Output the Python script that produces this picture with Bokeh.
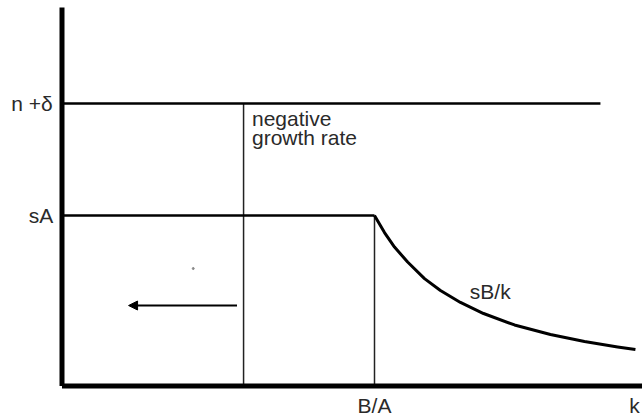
from bokeh.plotting import figure
from bokeh.models import Range1d, Arrow, NormalHead
from bokeh.core.properties import value
from bokeh.embed import file_html
from bokeh.resources import INLINE

# ---- schematic values (units: B/A = 10 on k axis, sA = 1 on y axis) ----
k_ba = 10.0          # B/A
k_neg = 5.81         # k where growth turns negative
k_end = 18.35        # end of sB/k curve
k_line_end = 17.23   # end of n+delta line
y_top = 2.22         # top of vertical axis
sA = 1.0
n_delta = 1.657

curve_k = [10.0, 10.32, 10.64, 11.06, 11.6, 12.11, 12.75, 13.49, 14.48, 15.63, 16.72, 17.78, 18.35]
curve_y = [1.0, 0.90, 0.815, 0.727, 0.63, 0.56, 0.49, 0.425, 0.358, 0.302, 0.261, 0.229, 0.214]

arrow_from = 5.6
arrow_to = 2.13
arrow_y = 0.472
dot_k, dot_y = 4.2, 0.689

labels = ["n +δ", "sA", "negative", "growth rate", "sB/k", "B/A", "k"]

FONT = value("Liberation Sans")

p = figure(width=642, height=417, output_backend="svg", toolbar_location=None,
           x_range=Range1d(-1.968, 18.576), y_range=Range1d(-0.1848, 2.261),
           min_border=0, min_border_left=0, min_border_right=0,
           min_border_top=0, min_border_bottom=0)
p.axis.visible = False
p.grid.visible = False
p.outline_line_color = None
p.background_fill_color = "white"
p.border_fill_color = "white"

# thin vertical guide lines
p.line([k_neg, k_neg], [0, n_delta], line_color="#222222", line_width=1.5)
p.line([k_ba, k_ba], [0, sA], line_color="#222222", line_width=1.5)

# horizontal schedules
p.line([0, k_line_end], [n_delta, n_delta], line_color="black", line_width=2.5)
p.line([0, k_ba], [sA, sA], line_color="black", line_width=2.5)

# sB/k curve
p.line(curve_k, curve_y, line_color="black", line_width=3, line_join="round")

# axes
p.line([0, 0], [0, y_top], line_color="black", line_width=5)
p.line([0, 18.576], [0, 0], line_color="black", line_width=5)

# arrow
p.add_layout(Arrow(x_start=arrow_from, y_start=arrow_y, x_end=arrow_to, y_end=arrow_y,
                   line_color="black", line_width=2,
                   end=NormalHead(size=9, fill_color="black", line_color="black")))
p.scatter([dot_k], [dot_y], size=2, color="#888888")

# texts
common = dict(text_font=FONT, text_font_size="21px", text_color="#2a2a2a")
p.text([-0.30], [n_delta], text=[labels[0]], text_align="right", text_baseline="middle", **common)
p.text([-0.28], [sA], text=[labels[1]], text_align="right", text_baseline="middle", **common)
p.text([6.08], [1.568], text=[labels[2]], text_align="left", text_baseline="middle", **common)
p.text([6.08], [1.455], text=[labels[3]], text_align="left", text_baseline="middle", **common)
p.text([13.05], [0.554], text=[labels[4]], text_align="left", text_baseline="middle", **common)
p.text([k_ba], [-0.114], text=[labels[5]], text_align="center", text_baseline="middle", **common)
p.text([18.32], [-0.114], text=[labels[6]], text_align="center", text_baseline="middle", **common)

open("out.html", "w").write(file_html(p, INLINE))
